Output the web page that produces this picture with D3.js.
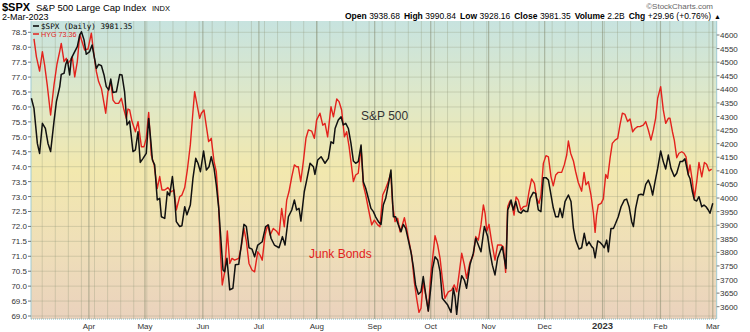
<!DOCTYPE html>
<html>
<head>
<meta charset="utf-8">
<script src="https://cdn.jsdelivr.net/npm/d3@7"></script>
<style>
body { margin: 0; background: #fff; }
svg { display: block; font-family: "Liberation Sans", Arial, sans-serif; }
</style>
</head>
<body>
<svg width="750" height="332"></svg>
<script>
// day = days after 1 Mar 2022, value = close
const spxPoints = [
  [0.2,4367],[1.6,4330],[3.4,4201],[4.6,4164],[6.1,4275],[7.7,4256],[9.1,4201],[10.5,4171],[12.3,4281],[13.6,4355],
  [15.4,4410],[16.2,4455],[17.7,4459],[18.6,4492],[19.5,4508],[20.7,4453],[21.6,4514],[23.0,4533],[24.8,4557],[26.1,4600],
  [27.0,4612],[28.4,4582],[29.6,4529],[31.4,4539],[32.7,4563],[33.7,4526],[35.0,4477],[36.2,4492],[37.7,4487],[39.1,4453],
  [40.3,4410],[41.6,4398],[42.7,4438],[43.9,4388],[45.7,4391],[47.5,4455],[48.7,4453],[50.1,4391],[51.4,4269],[52.8,4283],
  [54.6,4171],[55.9,4177],[57.3,4244],[58.5,4131],[60.0,4146],[61.7,4164],[63.0,4293],[64.1,4214],[65.0,4140],[66.2,4122],
  [67.6,3993],[68.9,3999],[69.8,3931],[71.6,3925],[73.0,4023],[74.2,4009],[75.7,4079],[76.9,3999],[77.8,3913],[79.6,3895],
  [80.8,3898],[82.3,3968],[83.5,3938],[85.3,3974],[86.7,4072],[88.2,4146],[89.4,4128],[90.7,4097],[92.4,4173],[93.9,4103],
  [95.3,4115],[96.5,4152],[98.0,4109],[99.2,4048],[100.5,3962],[101.5,3864],[102.8,3735],[103.7,3729],[104.9,3778],[106.4,3662],
  [108.1,3668],[109.4,3754],[111.2,3756],[112.6,3827],[114.0,3903],[115.3,3895],[116.7,3817],[118.3,3812],[119.7,3784],
  [121.4,3827],[123.8,3839],[125.6,3895],[127.1,3901],[128.5,3852],[130.3,3827],[132.8,3817],[134.6,3858],[136.0,3827],[137.8,3931],
  [139.6,3956],[141.0,3993],[142.2,3956],[143.5,3962],[144.5,3915],[146.3,4023],[147.6,4066],[149.4,4128],[151.2,4115],[152.0,4087],
  [153.5,4140],[155.3,4152],[157.4,4128],[159.2,4146],[160.6,4207],[161.9,4201],[162.8,4256],[164.5,4287],[166.0,4299],[167.2,4269],
  [168.5,4275],[169.9,4256],[171.3,4201],[172.6,4136],[173.8,4128],[175.2,4134],[176.7,4195],[177.9,4060],[179.2,4036],[180.6,3999],
  [182.0,3962],[183.3,3950],[184.5,3931],[186.0,3913],[187.4,3903],[188.6,3974],[189.9,3999],[191.3,4048],[192.7,4103],[194.0,3931],
  [195.2,3931],[196.7,3901],[198.1,3876],[199.3,3903],[200.6,3888],[202.0,3845],[203.4,3802],[204.7,3747],[205.9,3680],[207.4,3646],
  [208.8,3655],[210.0,3711],[211.3,3646],[212.7,3584],[214.0,3668],[215.0,3741],[216.3,3784],[217.7,3772],[219.0,3729],[220.2,3631],
  [221.6,3619],[223.1,3606],[224.9,3579],[226.1,3668],[227.0,3637],[227.9,3572],[229.1,3655],[230.6,3714],[232.0,3698],[233.2,3668],
  [235.0,3754],[236.8,3797],[238.1,3852],[239.5,3827],[240.9,3802],[242.7,3895],
  [244.5,3858],[245.7,3802],[247.0,3753],[248.4,3717],[249.8,3778],[251.1,3802],[252.3,3821],[253.4,3778],[254.3,3741],[255.2,3956],
  [255.9,3968],[257.0,3993],[258.2,3956],[259.5,3987],[260.9,3950],[262.3,3944],[263.6,3956],[264.8,3950],[265.9,3950],[267.2,3999],
  [268.9,4021],[270.2,4017],[271.6,3956],[273.0,3950],[274.3,4075],[275.7,4075],[277.0,4066],[278.4,4011],[279.6,3964],[280.9,3931],
  [282.3,3931],[283.2,3962],[284.5,3928],[285.9,3987],[287.7,4011],[289.1,3987],[290.4,3888],[291.6,3845],[293.4,3812],[294.8,3817],
  [296.2,3870],[297.5,3825],[298.7,3839],[300.2,3821],[301.1,3815],[302.0,3780],[303.4,3842],[304.6,3837],[305.9,3827],[306.9,3817],
  [308.2,3845],[309.1,3802],[310.5,3888],[311.8,3888],[313.0,3907],[314.4,3931],[315.9,3968],[317.7,3993],[318.9,3996],[320.2,3968],
  [321.6,3913],[322.5,3895],[323.7,3962],[325.2,4011],[326.6,4014],[327.8,4011],[329.1,4050],[330.5,4066],[331.8,4042],[332.8,4011],
  [334.1,4060],[335.5,4109],[337.1,4173],[338.5,4134],[339.8,4107],[341.2,4158],[342.6,4109],[344.4,4079],[345.7,4091],[347.5,4134],
  [348.7,4134],[350.1,4144],[351.9,4085],[352.8,4072],[354.1,4023],[355.1,3993],[356.4,3989],[357.6,4005],[359.1,3968],[360.3,3974],
  [361.4,3968],[362.6,3956],[363.5,3944],[365.0,3981]
];

const hygPoints = [
  [1.6,78.28],[2.9,77.68],[4.6,77.20],[6.1,77.85],[7.3,77.40],[8.7,76.73],[10.5,75.73],[12.3,76.73],[13.9,77.43],[15.4,77.87],
  [16.2,78.13],[17.7,77.52],[18.9,77.63],[19.8,77.46],[21.2,77.57],[22.1,77.68],[23.4,77.01],[24.8,77.52],[26.1,78.43],[27.3,78.19],
  [28.7,77.91],[30.5,77.94],[32.3,78.47],[33.7,77.74],[35.0,77.18],[36.2,76.85],[37.7,76.62],[39.1,76.12],[40.0,75.79],[41.2,76.51],
  [42.7,76.85],[43.9,76.23],[45.2,76.12],[46.9,76.12],[48.4,76.29],[49.6,75.95],[51.0,75.62],[51.9,75.93],[52.8,75.90],[54.1,75.51],
  [55.9,75.17],[57.3,75.51],[59.1,74.67],[60.5,74.67],[61.7,74.95],[63.0,75.82],[64.4,74.39],[65.9,74.06],[67.6,73.27],[68.9,73.67],
  [70.1,73.22],[71.6,73.22],[73.3,73.30],[75.1,73.16],[76.6,73.22],[77.8,72.55],[79.6,73.00],[80.8,73.05],[82.3,73.30],[83.7,73.89],
  [85.3,74.73],[86.7,75.84],[87.6,76.51],[89.1,76.01],[90.3,75.62],[91.2,75.79],[92.6,75.90],[93.9,75.34],[95.1,74.84],[96.5,74.95],
  [98.0,74.17],[99.2,73.83],[100.5,72.66],[101.5,71.04],[102.4,70.04],[103.7,70.48],[105.1,71.85],[106.4,70.76],[107.6,70.93],[109.0,70.87],
  [111.2,70.93],[112.6,71.32],[114.0,71.93],[115.3,71.51],[116.7,70.76],[118.3,70.54],[119.7,70.48],
  [121.4,71.15],[122.6,71.04],[123.8,70.87],[125.3,71.71],[126.7,72.05],[128.0,71.71],[129.7,71.93],[131.5,71.84],[132.8,71.71],[134.2,72.60],
  [135.6,71.99],[136.9,72.88],[138.1,73.16],[139.6,73.66],[141.0,74.06],[142.2,74.00],[143.1,74.00],[144.4,73.50],[145.8,74.17],[147.2,74.95],
  [148.5,75.23],[150.3,75.19],[151.7,74.95],[152.9,75.56],[154.7,75.79],[156.2,75.39],[157.4,75.45],[158.8,75.00],[160.6,76.01],[161.9,75.67],
  [163.7,76.27],[164.9,76.18],[166.3,75.90],[167.8,75.00],[169.0,75.17],[170.3,74.67],[171.3,74.17],[172.6,73.50],[173.8,73.72],[175.2,73.78],
  [176.7,74.67],[177.9,73.39],[179.2,73.05],[180.6,72.60],[182.4,72.05],[183.8,72.21],[185.6,72.05],[186.8,71.99],[188.3,73.05],[189.9,73.27],
  [191.3,73.50],[192.6,73.78],[193.6,72.72],[194.9,72.16],[196.3,72.27],[197.6,71.82],[198.8,72.05],[199.9,72.29],[201.1,71.93],[202.4,71.49],
  [203.8,71.04],[205.2,70.15],[206.5,69.57],[207.7,69.12],[208.8,69.26],[210.0,70.15],[211.3,69.70],[212.7,69.17],[214.0,70.37],[215.0,70.93],
  [216.3,71.69],[217.7,71.38],[219.0,70.93],[220.2,70.26],[221.6,69.59],[223.4,69.81],[225.2,69.87],[226.6,70.04],[227.9,69.81],[229.1,70.37],
  [230.6,71.10],[232.0,70.71],[233.2,70.26],[235.0,70.80],[236.8,71.04],[238.1,71.66],[239.5,71.54],[240.9,72.05],[242.2,72.72],
  [243.1,72.44],[244.0,71.84],[245.2,72.07],[246.6,71.49],[248.4,70.87],[249.8,71.38],[251.6,71.38],[252.9,71.32],[254.1,70.46],[255.2,72.66],
  [256.4,72.85],[257.7,72.66],[258.6,72.38],[259.7,72.99],[260.9,72.88],[262.3,72.55],[263.6,72.66],[265.4,72.69],[266.6,73.16],[268.0,73.59],
  [269.5,73.44],[270.7,72.94],[272.0,72.77],[273.0,73.05],[274.3,74.11],[275.7,74.37],[277.0,74.33],[278.4,73.66],[279.6,73.36],[280.9,73.72],
  [282.3,73.81],[284.1,73.81],[285.5,74.06],[286.8,74.39],[287.7,74.86],[288.9,74.45],[290.4,74.19],[291.6,73.83],[293.0,73.47],[294.8,73.18],
  [296.1,73.81],[297.1,73.39],[298.4,73.50],[299.8,73.05],[301.1,72.44],[302.0,71.80],[302.8,72.38],[303.7,72.72],[305.2,72.77],[306.4,72.92],
  [307.7,73.74],[308.7,73.61],[310.0,74.28],[311.2,74.78],[312.7,74.89],[314.1,74.95],[315.3,75.39],[316.6,75.79],[318.0,75.75],[319.4,75.51],
  [320.7,75.60],[322.1,75.17],[323.4,75.28],[324.8,75.34],[326.0,75.34],[327.8,75.39],[329.1,75.51],[330.5,75.23],[331.9,74.89],[333.2,75.23],
  [334.4,75.62],[335.5,76.29],[337.1,76.68],[338.5,75.90],[339.8,75.45],[341.2,75.62],[342.1,75.62],[343.4,75.17],[344.4,74.89],[345.7,74.30],
  [346.9,74.45],[348.4,74.50],[349.6,74.45],[350.7,74.33],[351.9,73.74],[352.8,74.06],[354.1,73.50],[355.1,72.94],[356.4,73.50],[357.6,74.14],
  [359.1,73.66],[360.5,74.14],[361.7,74.08],[363.0,73.86],[364.4,73.92]
];

const monthLabels = ["Apr", "May", "Jun", "Jul", "Aug", "Sep", "Oct", "Nov", "Dec", "2023", "Feb", "Mar"];
const leftTicks = d3.range(69, 78.51, 0.5);
const rightTicks = d3.range(3600, 4601, 50);
const quote = [["Open", "3938.68"], ["High", "3990.84"], ["Low", "3928.16"], ["Close", "3981.35"], ["Volume", "2.2B"], ["Chg", "+29.96 (+0.76%)"]];

const start = Date.UTC(2022, 2, 1);
const toDate = d => new Date(start + d * 864e5);

const L = 31, R = 716.7, T = 21, B = 319;
const x = d3.scaleUtc().domain([toDate(0), toDate(367.1)]).range([L, R]);
const yL = d3.scaleLinear().domain([69, 78.5]).range([316, 32.3]);
const yR = d3.scaleLinear().domain([3600, 4600]).range([306.7, 35]);

const svg = d3.select("svg");

// plot background
const grad = svg.append("defs").append("linearGradient")
  .attr("id", "bg").attr("x1", 0).attr("y1", 0).attr("x2", 0).attr("y2", 1);
grad.append("stop").attr("offset", "0%").attr("stop-color", "#c7e3df");
grad.append("stop").attr("offset", "25%").attr("stop-color", "#dee8c9");
grad.append("stop").attr("offset", "50%").attr("stop-color", "#f2e8ae");
grad.append("stop").attr("offset", "75%").attr("stop-color", "#efdfb8");
grad.append("stop").attr("offset", "100%").attr("stop-color", "#ead2bd");
svg.append("rect").attr("x", L).attr("y", T).attr("width", R - L).attr("height", B - T).attr("fill", "url(#bg)");

// grid
const grid = svg.append("g");
grid.selectAll(".hg").data(leftTicks).enter().append("line")
  .attr("x1", L).attr("x2", R).attr("y1", d => yL(d)).attr("y2", d => yL(d))
  .attr("stroke", "#8e9478").attr("stroke-opacity", 0.3);
const weeks = d3.utcMonday.range(toDate(0), toDate(367));
grid.selectAll(".vg").data(weeks).enter().append("line")
  .attr("x1", d => x(d)).attr("x2", d => x(d)).attr("y1", T).attr("y2", B)
  .attr("stroke", "#8e9478").attr("stroke-opacity", 0.3);
const months = d3.utcMonth.range(toDate(30), toDate(367));
grid.selectAll(".mg").data(months).enter().append("line")
  .attr("x1", d => x(d)).attr("x2", d => x(d)).attr("y1", T).attr("y2", B)
  .attr("stroke", "#80866a").attr("stroke-opacity", 0.5).attr("stroke-width", 1.2);

// frame
svg.append("line").attr("x1", L).attr("x2", L).attr("y1", T).attr("y2", B).attr("stroke", "#9fcbd3");
svg.append("line").attr("x1", R).attr("x2", R).attr("y1", T).attr("y2", B).attr("stroke", "#9fcbd3");
svg.append("line").attr("x1", L).attr("x2", R).attr("y1", B).attr("y2", B)
  .attr("stroke", "#7fb8c4").attr("stroke-dasharray", "1,1");

// left axis
const la = svg.append("g").attr("font-size", 8).attr("fill", "#333");
la.selectAll("text").data(leftTicks).enter().append("text")
  .attr("x", 27).attr("y", d => yL(d) + 3).attr("text-anchor", "end").text(d => d.toFixed(1));
la.selectAll("line").data(leftTicks).enter().append("line")
  .attr("x1", 28).attr("x2", L).attr("y1", d => yL(d)).attr("y2", d => yL(d)).attr("stroke", "#777");

// right axis
const ra = svg.append("g").attr("font-size", 8).attr("fill", "#333");
ra.selectAll("text").data(rightTicks).enter().append("text")
  .attr("x", 720).attr("y", d => yR(d) + 3).text(d => d);
ra.selectAll("line").data(rightTicks).enter().append("line")
  .attr("x1", R).attr("x2", 719.5).attr("y1", d => yR(d)).attr("y2", d => yR(d)).attr("stroke", "#777");

// x axis
svg.append("g").selectAll("text").data(months).enter().append("text")
  .attr("x", d => x(d)).attr("y", 329).attr("text-anchor", "middle")
  .attr("font-size", (d, i) => monthLabels[i] === "2023" ? 9.5 : 8)
  .attr("font-weight", (d, i) => monthLabels[i] === "2023" ? "bold" : "normal")
  .attr("fill", "#333")
  .text((d, i) => monthLabels[i]);

// series
const lineL = d3.line().x(d => x(toDate(d[0]))).y(d => yL(d[1]));
const lineR = d3.line().x(d => x(toDate(d[0]))).y(d => yR(d[1]));
svg.append("path").datum(hygPoints).attr("d", lineL)
  .attr("fill", "none").attr("stroke", "#e3221d").attr("stroke-width", 1.4).attr("stroke-linejoin", "round");
svg.append("path").datum(spxPoints).attr("d", lineR)
  .attr("fill", "none").attr("stroke", "#111").attr("stroke-width", 1.5).attr("stroke-linejoin", "round");

// annotations
svg.append("text").attr("x", 361).attr("y", 120).attr("font-size", 12).attr("fill", "#333").text("S&P 500");
svg.append("text").attr("x", 309).attr("y", 258).attr("font-size", 12).attr("fill", "#e3221d").text("Junk Bonds");

// legend
svg.append("line").attr("x1", 33).attr("x2", 39).attr("y1", 26).attr("y2", 26).attr("stroke", "#000").attr("stroke-width", 1.5);
svg.append("text").attr("x", 41).attr("y", 29).attr("font-size", 7.6)
  .attr("font-family", "'DejaVu Sans Mono', monospace").attr("fill", "#000").text("$SPX (Daily) 3981.35");
svg.append("line").attr("x1", 33).attr("x2", 39).attr("y1", 34).attr("y2", 34).attr("stroke", "#e3221d").attr("stroke-width", 1.5);
svg.append("text").attr("x", 41).attr("y", 37).attr("font-size", 7.2).attr("fill", "#e3221d").text("HYG 73.36");

// header
svg.append("text").attr("x", 2).attr("y", 11).attr("font-size", 11).attr("font-weight", "bold").text("$SPX");
svg.append("text").attr("x", 36).attr("y", 11).attr("font-size", 9.5).text("S&P 500 Large Cap Index");
svg.append("text").attr("x", 152).attr("y", 11).attr("font-size", 7.5).text("INDX");
svg.append("text").attr("x", 2).attr("y", 20).attr("font-size", 9).text("2-Mar-2023");
svg.append("text").attr("x", 713).attr("y", 9).attr("text-anchor", "end").attr("font-size", 8)
  .attr("fill", "#666").text("©StockCharts.com");

const q = svg.append("text").attr("x", 721).attr("y", 19).attr("text-anchor", "end").attr("font-size", 8.5).attr("fill", "#000");
quote.forEach((p, i) => {
  q.append("tspan").attr("dx", i ? 4 : 0).attr("font-weight", "bold").text(p[0]);
  q.append("tspan").attr("dx", 2.5).text(p[1]);
});
q.append("tspan").attr("dx", 3).attr("font-size", 7).text("▲");
</script>
</body>
</html>
